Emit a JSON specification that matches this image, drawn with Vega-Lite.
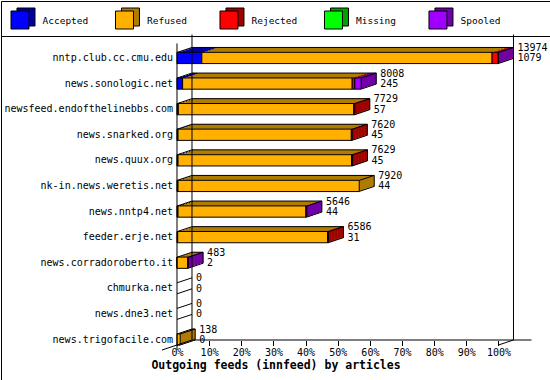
{
  "$schema": "https://vega.github.io/schema/vega-lite/v6.json",
  "background": "white",
  "padding": 0,
  "bounds": "flush",
  "spacing": 0,
  "config": {
    "view": {"stroke": "black", "strokeWidth": 1},
    "font": "DejaVu Sans Mono",
    "text": {"font": "DejaVu Sans Mono", "fontSize": 10, "color": "black"},
    "rule": {"color": "black", "strokeWidth": 1}
  },
  "datasets": {
    "legend": [
      {"category": "Accepted"}, {"category": "Refused"}, {"category": "Rejected"}, {"category": "Missing"}, {"category": "Spooled"}
    ],
    "bars": [
      {"host": "nntp.club.cc.cmu.edu", "category": "Accepted", "value": 7.72},
      {"host": "nntp.club.cc.cmu.edu", "category": "Refused", "value": 90.28},
      {"host": "nntp.club.cc.cmu.edu", "category": "Rejected", "value": 1.9},
      {"host": "nntp.club.cc.cmu.edu", "category": "Spooled", "value": 0.1},
      {"host": "news.sonologic.net", "category": "Accepted", "value": 1.75},
      {"host": "news.sonologic.net", "category": "Refused", "value": 52.75},
      {"host": "news.sonologic.net", "category": "Rejected", "value": 0.8},
      {"host": "news.sonologic.net", "category": "Spooled", "value": 2.0},
      {"host": "newsfeed.endofthelinebbs.com", "category": "Accepted", "value": 0.41},
      {"host": "newsfeed.endofthelinebbs.com", "category": "Refused", "value": 54.6},
      {"host": "newsfeed.endofthelinebbs.com", "category": "Rejected", "value": 0.3},
      {"host": "news.snarked.org", "category": "Accepted", "value": 0.32},
      {"host": "news.snarked.org", "category": "Refused", "value": 53.91},
      {"host": "news.snarked.org", "category": "Rejected", "value": 0.3},
      {"host": "news.quux.org", "category": "Accepted", "value": 0.32},
      {"host": "news.quux.org", "category": "Refused", "value": 53.97},
      {"host": "news.quux.org", "category": "Rejected", "value": 0.3},
      {"host": "nk-in.news.weretis.net", "category": "Accepted", "value": 0.31},
      {"host": "nk-in.news.weretis.net", "category": "Refused", "value": 56.37},
      {"host": "news.nntp4.net", "category": "Accepted", "value": 0.31},
      {"host": "news.nntp4.net", "category": "Refused", "value": 39.79},
      {"host": "news.nntp4.net", "category": "Spooled", "value": 0.3},
      {"host": "feeder.erje.net", "category": "Accepted", "value": 0.22},
      {"host": "feeder.erje.net", "category": "Refused", "value": 46.61},
      {"host": "feeder.erje.net", "category": "Rejected", "value": 0.3},
      {"host": "news.corradoroberto.it", "category": "Accepted", "value": 0.01},
      {"host": "news.corradoroberto.it", "category": "Refused", "value": 3.36},
      {"host": "news.corradoroberto.it", "category": "Spooled", "value": 0.09},
      {"host": "news.trigofacile.com", "category": "Refused", "value": 0.99}
    ],
    "totals": [
      {"host": "nntp.club.cc.cmu.edu", "total": 13974, "accepted": 1079, "share": 100, "last": "Spooled"},
      {"host": "news.sonologic.net", "total": 8008, "accepted": 245, "share": 57.31, "last": "Spooled"},
      {"host": "newsfeed.endofthelinebbs.com", "total": 7729, "accepted": 57, "share": 55.31, "last": "Rejected"},
      {"host": "news.snarked.org", "total": 7620, "accepted": 45, "share": 54.53, "last": "Rejected"},
      {"host": "news.quux.org", "total": 7629, "accepted": 45, "share": 54.59, "last": "Rejected"},
      {"host": "nk-in.news.weretis.net", "total": 7920, "accepted": 44, "share": 56.68, "last": "Refused"},
      {"host": "news.nntp4.net", "total": 5646, "accepted": 44, "share": 40.4, "last": "Spooled"},
      {"host": "feeder.erje.net", "total": 6586, "accepted": 31, "share": 47.13, "last": "Rejected"},
      {"host": "news.corradoroberto.it", "total": 483, "accepted": 2, "share": 3.46, "last": "Spooled"},
      {"host": "chmurka.net", "total": 0, "accepted": 0, "share": 0, "last": null},
      {"host": "news.dne3.net", "total": 0, "accepted": 0, "share": 0, "last": null},
      {"host": "news.trigofacile.com", "total": 138, "accepted": 0, "share": 0.99, "last": "Refused"}
    ]
  },
  "vconcat": [
    {
      "width": 549,
      "height": 35,
      "data": {"name": "legend"},
      "encoding": {
        "x": {"field": "category", "type": "nominal", "sort": null,
          "scale": {"type": "point", "domain": ["Accepted", "Refused", "Rejected", "Missing", "Spooled"], "padding": 0.627, "align": 0.145},
          "axis": null}
      },
      "layer": [
        {
          "mark": {"type": "square", "size": 324, "xOffset": 6, "yOffset": -1.5, "stroke": "black", "strokeWidth": 1, "opacity": 1},
          "encoding": {"fill": {"field": "category", "type": "nominal",
            "scale": {"domain": ["Accepted", "Refused", "Rejected", "Missing", "Spooled"], "range": ["#0000a0", "#b07c00", "#a00000", "#00a000", "#7000a8"]}, "legend": null}}
        },
        {
          "mark": {"type": "square", "size": 324, "yOffset": 1.5, "stroke": "black", "strokeWidth": 1, "opacity": 1},
          "encoding": {"color": {"field": "category", "type": "nominal",
            "scale": {"domain": ["Accepted", "Refused", "Rejected", "Missing", "Spooled"], "range": ["#0000ff", "#ffb000", "#ff0000", "#00ff00", "#a000ff"]}, "legend": null}}
        },
        {
          "mark": {"type": "text", "align": "left", "baseline": "middle", "dx": 22.5, "dy": 2, "fontSize": 9.5},
          "encoding": {"text": {"field": "category"}}
        }
      ]
    },
    {
      "width": 549,
      "height": 344,
      "layer": [
        {
          "data": {"name": "bars"},
          "mark": {"type": "bar", "xOffset": 15, "x2Offset": 15, "yOffset": -5, "y2Offset": -5},
          "encoding": {
            "x": {"field": "value", "type": "quantitative", "stack": "zero",
              "scale": {"domain": [-54.74, 116.02], "nice": false, "zero": false},
              "axis": {"orient": "bottom", "offset": -39.5, "values": [0, 10, 20, 30, 40, 50, 60, 70, 80, 90, 100],
                "labelExpr": "datum.value + '%'", "domain": false, "grid": false, "tickSize": 5, "tickColor": "black",
                "labelFont": "DejaVu Sans Mono", "labelFontSize": 10, "labelColor": "black", "labelPadding": 2,
                "title": "Outgoing feeds (innfeed) by articles", "titleFont": "DejaVu Sans Mono", "titleFontWeight": "bold",
                "titleFontSize": 11.5, "titleColor": "black", "titlePadding": 2}},
            "y": {"field": "host", "type": "nominal",
              "scale": {"domain": ["nntp.club.cc.cmu.edu", "news.sonologic.net", "newsfeed.endofthelinebbs.com", "news.snarked.org", "news.quux.org", "nk-in.news.weretis.net", "news.nntp4.net", "feeder.erje.net", "news.corradoroberto.it", "chmurka.net", "news.dne3.net", "news.trigofacile.com"],
                "paddingInner": 0.56, "paddingOuter": 1.16, "align": 0.319},
              "axis": {"orient": "left", "offset": -176, "ticks": false, "domain": false, "grid": false, "labelPadding": 4.5,
                "labelFont": "DejaVu Sans Mono", "labelFontSize": 10, "labelColor": "black", "title": null}},
            "fill": {"field": "category", "type": "nominal",
              "scale": {"domain": ["Accepted", "Refused", "Rejected", "Missing", "Spooled"], "range": ["#0000a0", "#b07c00", "#a00000", "#00a000", "#7000a8"]}, "legend": null}
          }
        },
        {
          "data": {"name": "bars"},
          "mark": {"type": "bar", "xOffset": 12, "x2Offset": 12, "yOffset": -4, "y2Offset": -4},
          "encoding": {
            "x": {"field": "value", "type": "quantitative", "stack": "zero"},
            "y": {"field": "host", "type": "nominal"},
            "fill": {"field": "category", "type": "nominal", "legend": null}
          }
        },
        {
          "data": {"name": "bars"},
          "mark": {"type": "bar", "xOffset": 9, "x2Offset": 9, "yOffset": -3, "y2Offset": -3},
          "encoding": {
            "x": {"field": "value", "type": "quantitative", "stack": "zero"},
            "y": {"field": "host", "type": "nominal"},
            "fill": {"field": "category", "type": "nominal", "legend": null}
          }
        },
        {
          "data": {"name": "bars"},
          "mark": {"type": "bar", "xOffset": 6, "x2Offset": 6, "yOffset": -2, "y2Offset": -2},
          "encoding": {
            "x": {"field": "value", "type": "quantitative", "stack": "zero"},
            "y": {"field": "host", "type": "nominal"},
            "fill": {"field": "category", "type": "nominal", "legend": null}
          }
        },
        {
          "data": {"name": "bars"},
          "mark": {"type": "bar", "xOffset": 3, "x2Offset": 3, "yOffset": -1, "y2Offset": -1},
          "encoding": {
            "x": {"field": "value", "type": "quantitative", "stack": "zero"},
            "y": {"field": "host", "type": "nominal"},
            "fill": {"field": "category", "type": "nominal", "legend": null}
          }
        },
        {
          "data": {"name": "totals"},
          "transform": [{"filter": "datum.total > 0"}],
          "mark": {"type": "bar", "xOffset": 12, "x2Offset": 15, "yOffset": -5, "y2Offset": -5},
          "encoding": {
            "x": {"field": "share", "type": "quantitative"},
            "x2": {"field": "share"},
            "y": {"field": "host", "type": "nominal"},
            "fill": {"field": "last", "type": "nominal", "legend": null}
          }
        },
        {
          "data": {"name": "totals"},
          "transform": [{"filter": "datum.total > 0"}],
          "mark": {"type": "bar", "xOffset": 9, "x2Offset": 12, "yOffset": -4, "y2Offset": -4},
          "encoding": {
            "x": {"field": "share", "type": "quantitative"},
            "x2": {"field": "share"},
            "y": {"field": "host", "type": "nominal"},
            "fill": {"field": "last", "type": "nominal", "legend": null}
          }
        },
        {
          "data": {"name": "totals"},
          "transform": [{"filter": "datum.total > 0"}],
          "mark": {"type": "bar", "xOffset": 6, "x2Offset": 9, "yOffset": -3, "y2Offset": -3},
          "encoding": {
            "x": {"field": "share", "type": "quantitative"},
            "x2": {"field": "share"},
            "y": {"field": "host", "type": "nominal"},
            "fill": {"field": "last", "type": "nominal", "legend": null}
          }
        },
        {
          "data": {"name": "totals"},
          "transform": [{"filter": "datum.total > 0"}],
          "mark": {"type": "bar", "xOffset": 3, "x2Offset": 6, "yOffset": -2, "y2Offset": -2},
          "encoding": {
            "x": {"field": "share", "type": "quantitative"},
            "x2": {"field": "share"},
            "y": {"field": "host", "type": "nominal"},
            "fill": {"field": "last", "type": "nominal", "legend": null}
          }
        },
        {
          "data": {"name": "totals"},
          "transform": [{"filter": "datum.total > 0"}],
          "mark": {"type": "bar", "xOffset": 0, "x2Offset": 3, "yOffset": -1, "y2Offset": -1},
          "encoding": {
            "x": {"field": "share", "type": "quantitative"},
            "x2": {"field": "share"},
            "y": {"field": "host", "type": "nominal"},
            "fill": {"field": "last", "type": "nominal", "legend": null}
          }
        },
        {
          "data": {"name": "bars"},
          "mark": {"type": "bar", "stroke": "black", "strokeWidth": 1},
          "encoding": {
            "x": {"field": "value", "type": "quantitative", "stack": "zero"},
            "y": {"field": "host", "type": "nominal"},
            "color": {"field": "category", "type": "nominal",
              "scale": {"domain": ["Accepted", "Refused", "Rejected", "Missing", "Spooled"], "range": ["#0000ff", "#ffb000", "#ff0000", "#00ff00", "#a000ff"]}, "legend": null}
          }
        },
        {
          "data": {"name": "totals"},
          "transform": [{"filter": "datum.total > 0"}],
          "mark": {"type": "rule", "xOffset": 15, "x2Offset": 15, "yOffset": -10.5},
          "encoding": {
            "x": {"field": "share", "type": "quantitative"},
            "x2": {"datum": 0},
            "y": {"field": "host", "type": "nominal", "bandPosition": 0.5}
          }
        },
        {
          "data": {"name": "totals"},
          "transform": [{"filter": "datum.total > 0"}],
          "mark": {"type": "rule", "xOffset": 15, "yOffset": -10.5, "y2Offset": 0.5},
          "encoding": {
            "x": {"field": "share", "type": "quantitative"},
            "y": {"field": "host", "type": "nominal", "bandPosition": 0.5},
            "y2": {"field": "host", "bandPosition": 0.5}
          }
        },
        {
          "data": {"name": "totals"},
          "transform": [{"filter": "datum.total > 0"}],
          "mark": {"type": "rule", "x2Offset": 15, "yOffset": -5.5, "y2Offset": -10.5},
          "encoding": {
            "x": {"datum": 0, "type": "quantitative"},
            "x2": {"datum": 0},
            "y": {"field": "host", "type": "nominal", "bandPosition": 0.5},
            "y2": {"field": "host", "bandPosition": 0.5}
          }
        },
        {
          "data": {"name": "totals"},
          "transform": [{"filter": "datum.total > 0"}],
          "mark": {"type": "rule", "x2Offset": 15, "yOffset": -5.5, "y2Offset": -10.5},
          "encoding": {
            "x": {"field": "share", "type": "quantitative"},
            "x2": {"field": "share"},
            "y": {"field": "host", "type": "nominal", "bandPosition": 0.5},
            "y2": {"field": "host", "bandPosition": 0.5}
          }
        },
        {
          "data": {"name": "totals"},
          "transform": [{"filter": "datum.total > 0"}],
          "mark": {"type": "rule", "x2Offset": 15, "yOffset": 5.5, "y2Offset": 0.5},
          "encoding": {
            "x": {"field": "share", "type": "quantitative"},
            "x2": {"field": "share"},
            "y": {"field": "host", "type": "nominal", "bandPosition": 0.5},
            "y2": {"field": "host", "bandPosition": 0.5}
          }
        },
        {
          "data": {"name": "totals"},
          "transform": [{"filter": "datum.total == 0"}],
          "mark": {"type": "rule", "x2Offset": 15, "yOffset": -5.5, "y2Offset": -10.5},
          "encoding": {
            "x": {"field": "share", "type": "quantitative"},
            "x2": {"field": "share"},
            "y": {"field": "host", "type": "nominal", "bandPosition": 0.5},
            "y2": {"field": "host", "bandPosition": 0.5}
          }
        },
        {
          "data": {"name": "totals"},
          "transform": [{"filter": "datum.total == 0"}],
          "mark": {"type": "rule", "x2Offset": 15, "yOffset": 5.5, "y2Offset": 0.5},
          "encoding": {
            "x": {"field": "share", "type": "quantitative"},
            "x2": {"field": "share"},
            "y": {"field": "host", "type": "nominal", "bandPosition": 0.5},
            "y2": {"field": "host", "bandPosition": 0.5}
          }
        },
        {
          "data": {"name": "totals"},
          "mark": {"type": "text", "align": "left", "baseline": "middle", "dx": 19, "dy": -10, "fontSize": 10},
          "encoding": {
            "x": {"field": "share", "type": "quantitative"},
            "y": {"field": "host", "type": "nominal", "bandPosition": 0.5},
            "text": {"field": "total", "type": "nominal"}
          }
        },
        {
          "data": {"name": "totals"},
          "mark": {"type": "text", "align": "left", "baseline": "middle", "dx": 19, "dy": 0.5, "fontSize": 10},
          "encoding": {
            "x": {"field": "share", "type": "quantitative"},
            "y": {"field": "host", "type": "nominal", "bandPosition": 0.5},
            "text": {"field": "accepted", "type": "nominal"}
          }
        },
        {
          "data": {"values": [{}]},
          "mark": {"type": "rule", "yOffset": -14.5, "y2Offset": 10.5},
          "encoding": {
            "x": {"datum": 0, "type": "quantitative"},
            "y": {"datum": "nntp.club.cc.cmu.edu", "type": "nominal", "bandPosition": 0.5},
            "y2": {"datum": "news.trigofacile.com", "bandPosition": 0.5}
          }
        },
        {
          "data": {"values": [{}]},
          "mark": {"type": "rule", "xOffset": 15, "yOffset": -23.5, "y2Offset": 0.5},
          "encoding": {
            "x": {"datum": 0, "type": "quantitative"},
            "y": {"datum": "nntp.club.cc.cmu.edu", "type": "nominal", "bandPosition": 0.5},
            "y2": {"datum": "news.trigofacile.com", "bandPosition": 0.5}
          }
        },
        {
          "data": {"values": [{}]},
          "mark": {"type": "rule", "xOffset": 15, "yOffset": -23.5, "y2Offset": 0.5},
          "encoding": {
            "x": {"datum": 100, "type": "quantitative"},
            "y": {"datum": "nntp.club.cc.cmu.edu", "type": "nominal", "bandPosition": 0.5},
            "y2": {"datum": "news.trigofacile.com", "bandPosition": 0.5}
          }
        },
        {
          "data": {"values": [{}]},
          "mark": {"type": "rule", "xOffset": 15, "x2Offset": 33, "yOffset": 0.5},
          "encoding": {
            "x": {"datum": 0, "type": "quantitative"},
            "x2": {"datum": 100},
            "y": {"datum": "news.trigofacile.com", "type": "nominal", "bandPosition": 0.5}
          }
        },
        {
          "data": {"values": [{}]},
          "mark": {"type": "rule", "xOffset": -15, "x2Offset": 15, "yOffset": 10.5, "y2Offset": 0.5},
          "encoding": {
            "x": {"datum": 0, "type": "quantitative"},
            "x2": {"datum": 0},
            "y": {"datum": "news.trigofacile.com", "type": "nominal", "bandPosition": 0.5},
            "y2": {"datum": "news.trigofacile.com", "bandPosition": 0.5}
          }
        },
        {
          "data": {"values": [{}]},
          "mark": {"type": "rule", "x2Offset": 15, "yOffset": 5.5, "y2Offset": 0.5},
          "encoding": {
            "x": {"datum": 100, "type": "quantitative"},
            "x2": {"datum": 100},
            "y": {"datum": "news.trigofacile.com", "type": "nominal", "bandPosition": 0.5},
            "y2": {"datum": "news.trigofacile.com", "bandPosition": 0.5}
          }
        }
      ]
    }
  ]
}
